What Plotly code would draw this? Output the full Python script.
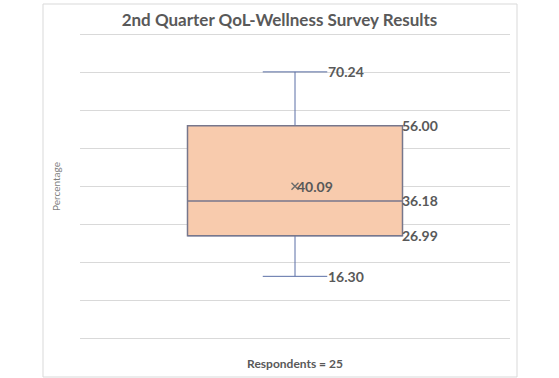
import plotly.graph_objects as go

# ---- data ----
category = ["Respondents = 25"]
min_val = [16.30]
q1_val = [26.99]
median_val = [36.18]
q3_val = [56.00]
max_val = [70.24]
mean_val = [40.09]
y_ticks = [0, 10, 20, 30, 40, 50, 60, 70, 80]

TITLE = "2nd Quarter QoL-Wellness Survey Results"
Y_TITLE = "Percentage"

FONT = "Lato"
TXT = "#595959"
FILL = "#F8CBAD"
WHISK = "#5B6FA6"
OUTLINE = "#77778C"
BOX_W = 0.5
WHISK_W = 0.3

# plot area in pixels
L, R, T, B = 80, 510, 33, 340
W, H = 559, 378

fig = go.Figure()

# whiskers + box (blue lines)
fig.add_trace(go.Box(
    x=category, q1=q1_val, median=median_val, q3=q3_val,
    lowerfence=min_val, upperfence=max_val,
    width=BOX_W, whiskerwidth=WHISK_W,
    fillcolor=FILL, line=dict(color=WHISK, width=1),
    boxpoints=False, hoverinfo="skip", showlegend=False,
))
# box outline + median (grey lines), whiskers collapsed
fig.add_trace(go.Box(
    x=category, q1=q1_val, median=median_val, q3=q3_val,
    lowerfence=q1_val, upperfence=q3_val,
    width=BOX_W, whiskerwidth=0,
    fillcolor=FILL, line=dict(color=OUTLINE, width=1.5),
    boxpoints=False, hoverinfo="skip", showlegend=False,
))
# mean marker
fig.add_trace(go.Scatter(
    x=category, y=mean_val, mode="markers",
    marker=dict(symbol="x-thin", size=7, line=dict(color="#6B6B6B", width=1.4)),
    hoverinfo="skip", showlegend=False,
))

ann = []
lab_font = dict(family=FONT, size=14, color=TXT)
# box labels (right edge of box)
for v in (q3_val[0], median_val[0], q1_val[0]):
    ann.append(dict(x=BOX_W / 2, y=v, xref="x", yref="y", text=f"<b>{v:.2f}</b>",
                    showarrow=False, xanchor="left", yanchor="middle", xshift=-3,
                    font=lab_font))
# whisker labels
for v in (max_val[0], min_val[0]):
    ann.append(dict(x=BOX_W / 2 * WHISK_W, y=v, xref="x", yref="y", text=f"<b>{v:.2f}</b>",
                    showarrow=False, xanchor="left", yanchor="middle", xshift=-1,
                    font=lab_font))
# mean label
ann.append(dict(x=0, y=mean_val[0], xref="x", yref="y", text=f"<b>{mean_val[0]:.2f}</b>",
                showarrow=False, xanchor="left", yanchor="middle", xshift=0,
                font=lab_font))

pw, ph = R - L, B - T
fig.update_layout(
    width=W, height=H,
    margin=dict(l=L, r=W - R, t=T, b=H - B, autoexpand=False),
    paper_bgcolor="white", plot_bgcolor="white",
    title=dict(text=f"<b>{TITLE}</b>", x=0.5, xref="container", xanchor="center",
               y=1 - 20 / H, yanchor="middle",
               font=dict(family=FONT, size=17, color=TXT)),
    annotations=ann,
    font=dict(family=FONT, color=TXT),
    shapes=[dict(type="rect", xref="paper", yref="paper",
                 x0=(43 - L) / pw, x1=(517 - L) / pw,
                 y0=(B - 377) / ph, y1=(B - 4) / ph,
                 line=dict(color="#D9D9D9", width=1), fillcolor="rgba(0,0,0,0)",
                 layer="below")],
)
fig.update_xaxes(
    type="category", range=[-0.5, 0.5], showgrid=False, showline=False,
    zeroline=False, ticks="", ticklabelstandoff=15, automargin=False,
    tickfont=dict(family=FONT, size=12, color=TXT),
    tickvals=category, ticktext=[f"<b>{c}</b>" for c in category],
)
fig.update_yaxes(
    range=[-0.5, 80.5], tickvals=y_ticks, showticklabels=False, showgrid=True,
    gridcolor="#D9D9D9", gridwidth=1, zeroline=False, showline=False, ticks="",
    automargin=False,
    title=dict(text=Y_TITLE, standoff=16, font=dict(family=FONT, size=10, color="#7F7F7F")),
)

fig.write_html("out.html", config={"displayModeBar": False},
               post_script="document.body.style.margin='0';")
